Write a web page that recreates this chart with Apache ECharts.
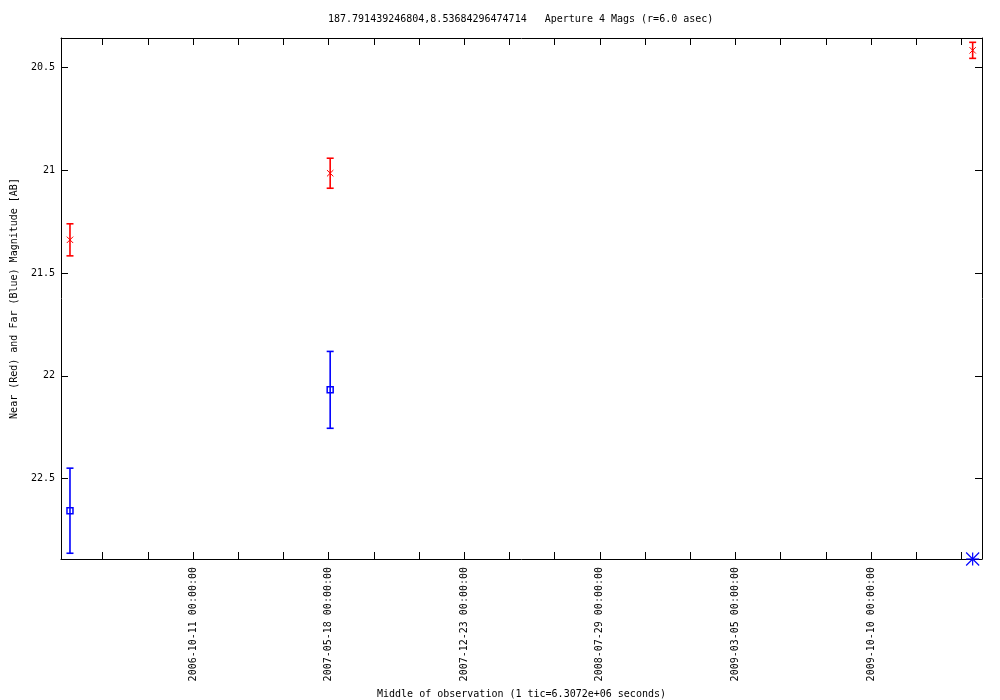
<!DOCTYPE html>
<html>
<head>
<meta charset="utf-8">
<script src="https://cdn.jsdelivr.net/npm/echarts@6/dist/echarts.min.js"></script>
<style>
html,body{margin:0;padding:0;background:#fff;}
#chart{width:1000px;height:700px;}
</style>
</head>
<body>
<div id="chart"></div>
<script>
// ---- data ----
const titleText = '187.791439246804,8.53684296474714   Aperture 4 Mags (r=6.0 asec)';
const xAxisName = 'Middle of observation (1 tic=6.3072e+06 seconds)';
const yAxisName = 'Near (Red) and Far (Blue) Magnitude [AB]';

const obsDates = ['2006-03-26T05:00:00Z', '2007-05-20T10:00:00Z', '2010-03-23T00:00:00Z'];
const nearMag  = [21.338, 21.014, 20.416];
const nearErr  = [0.078, 0.073, 0.039];
const farMag   = [22.656, 22.068, 22.891];
const farErr   = [0.207, 0.187, 0];
const farSym   = ['box', 'box', 'star'];

const xTickLabels = ['2006-10-11 00:00:00', '2007-05-18 00:00:00', '2007-12-23 00:00:00',
                     '2008-07-29 00:00:00', '2009-03-05 00:00:00', '2009-10-10 00:00:00'];
const yTickLabels = [20.5, 21, 21.5, 22, 22.5];

const xRange = ['2006-03-11T17:00:00Z', '2010-04-07T02:00:00Z'];
const yRange = [20.356, 22.891];
const ticSeconds = 6.3072e6;

// ---- helpers ----
const toSec = s => Date.parse(s) / 1000;
const xMin = toSec(xRange[0]), xMax = toSec(xRange[1]);
const labelVals = xTickLabels.map(s => toSec(s.replace(' ', 'T') + 'Z'));
const labelMap = {};
labelVals.forEach((v, i) => labelMap[v] = xTickLabels[i]);
const tickVals = [];
for (let k = Math.ceil(xMin / ticSeconds); k * ticSeconds <= xMax; k++) tickVals.push(k * ticSeconds);

const FONT = '"DejaVu Sans Mono", monospace';

function makeRender(color, kinds) {
  return function (params, api) {
    const x = api.value(0), y = api.value(1), e = api.value(2);
    const c = api.coord([x, y]);
    const kind = kinds[params.dataIndex];
    const st = { stroke: color, lineWidth: 1.6, fill: null };
    const ch = [];
    if (e > 0) {
      const a = api.coord([x, y - e]), b = api.coord([x, y + e]);
      ch.push({ type: 'line', shape: { x1: c[0], y1: a[1], x2: c[0], y2: b[1] }, style: st });
      ch.push({ type: 'line', shape: { x1: c[0] - 3.5, y1: a[1], x2: c[0] + 3.5, y2: a[1] }, style: st });
      ch.push({ type: 'line', shape: { x1: c[0] - 3.5, y1: b[1], x2: c[0] + 3.5, y2: b[1] }, style: st });
    }
    if (kind === 'cross') {
      const s = 3.2;
      ch.push({ type: 'line', shape: { x1: c[0] - s, y1: c[1] - s, x2: c[0] + s, y2: c[1] + s }, style: { stroke: color, lineWidth: 1 } });
      ch.push({ type: 'line', shape: { x1: c[0] - s, y1: c[1] + s, x2: c[0] + s, y2: c[1] - s }, style: { stroke: color, lineWidth: 1 } });
    } else if (kind === 'box') {
      ch.push({ type: 'rect', shape: { x: c[0] - 3, y: c[1] - 3, width: 6, height: 6 }, style: { stroke: color, lineWidth: 1.5, fill: null } });
    } else if (kind === 'star') {
      const s = 6.5;
      const ls = { stroke: color, lineWidth: 1.2 };
      ch.push({ type: 'line', shape: { x1: c[0] - s, y1: c[1], x2: c[0] + s, y2: c[1] }, style: ls });
      ch.push({ type: 'line', shape: { x1: c[0], y1: c[1] - s, x2: c[0], y2: c[1] + s }, style: ls });
      ch.push({ type: 'line', shape: { x1: c[0] - s, y1: c[1] - s, x2: c[0] + s, y2: c[1] + s }, style: ls });
      ch.push({ type: 'line', shape: { x1: c[0] - s, y1: c[1] + s, x2: c[0] + s, y2: c[1] - s }, style: ls });
    }
    return { type: 'group', children: ch };
  };
}

const nearData = obsDates.map((d, i) => [toSec(d), nearMag[i], nearErr[i]]);
const farData = obsDates.map((d, i) => [toSec(d), farMag[i], farErr[i]]);

const axisLineStyle = { show: true, lineStyle: { color: '#000', width: 1 } };

const chart = echarts.init(document.getElementById('chart'), null, { renderer: 'canvas' });
chart.setOption({
  animation: false,
  backgroundColor: '#fff',
  title: {
    text: titleText, left: 323, top: 9,
    textStyle: { fontFamily: FONT, fontSize: 10, fontWeight: 'normal', color: '#000' }
  },
  grid: { left: 61, right: 18, top: 38, bottom: 141, containLabel: false, outerBoundsMode: 'none' },
  xAxis: [{
    type: 'value', min: xMin, max: xMax, position: 'bottom',
    name: xAxisName, nameLocation: 'middle', nameGap: 130,
    nameTextStyle: { fontFamily: FONT, fontSize: 10, color: '#000' },
    axisLine: axisLineStyle,
    axisTick: { show: true, inside: true, length: 7, customValues: tickVals, lineStyle: { color: '#000' } },
    axisLabel: {
      show: true, rotate: 90, margin: 8, customValues: labelVals,
      fontFamily: FONT, fontSize: 10, color: '#000',
      formatter: v => labelMap[v] || ''
    },
    splitLine: { show: false }
  }, {
    type: 'value', min: xMin, max: xMax, position: 'top',
    axisLine: axisLineStyle,
    axisTick: { show: true, inside: true, length: 7, customValues: tickVals, lineStyle: { color: '#000' } },
    axisLabel: { show: false },
    splitLine: { show: false }
  }],
  yAxis: [{
    type: 'value', min: yRange[0], max: yRange[1], inverse: true, position: 'left',
    name: yAxisName, nameLocation: 'middle', nameGap: 42, nameRotate: 90,
    nameTextStyle: { fontFamily: FONT, fontSize: 10, color: '#000' },
    axisLine: axisLineStyle,
    axisTick: { show: true, inside: true, length: 7, customValues: yTickLabels, lineStyle: { color: '#000' } },
    axisLabel: { show: true, margin: 6, customValues: yTickLabels, fontFamily: FONT, fontSize: 10, color: '#000',
      formatter: v => String(v) },
    splitLine: { show: false }
  }, {
    type: 'value', min: yRange[0], max: yRange[1], inverse: true, position: 'right',
    axisLine: axisLineStyle,
    axisTick: { show: true, inside: true, length: 7, customValues: yTickLabels, lineStyle: { color: '#000' } },
    axisLabel: { show: false },
    splitLine: { show: false }
  }],
  series: [{
    type: 'custom', name: 'Near', xAxisIndex: 0, yAxisIndex: 0, clip: false,
    renderItem: makeRender('#ff0000', obsDates.map(() => 'cross')),
    data: nearData
  }, {
    type: 'custom', name: 'Far', xAxisIndex: 0, yAxisIndex: 0, clip: false,
    renderItem: makeRender('#0000ff', farSym),
    data: farData
  }]
});
</script>
</body>
</html>
